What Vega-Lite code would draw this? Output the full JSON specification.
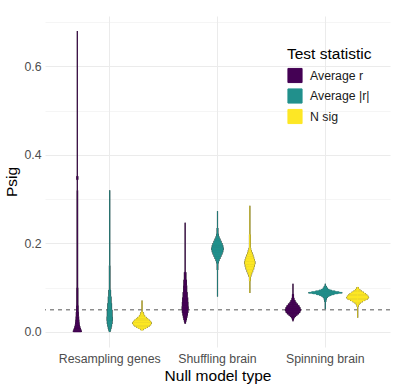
{
  "$schema": "https://vega.github.io/schema/vega-lite/v6.json",
  "width": 345,
  "height": 331,
  "autosize": {"type": "none"},
  "padding": {"left": 45, "top": 16, "right": 25, "bottom": 43},
  "background": "white",
  "config": {
    "font": "Liberation Sans",
    "view": {"stroke": null},
    "axis": {"domain": false, "ticks": false, "tickSize": 0, "labelColor": "#4D4D4D", "titleColor": "#000000", "titleFontWeight": "normal", "labelFontSize": 12.3, "titleFontSize": 15.5, "gridColor": "#EBEBEB"},
    "legend": {"titleFontWeight": "normal"}
  },
  "data": {"values": [
    {"g":"Resampling genes","s":"Average r","lo":0.32,"hi":0.68,"d":0},
    {"g":"Resampling genes","s":"Average r","lo":0.344,"hi":0.352,"d":3},
    {"g":"Resampling genes","s":"Average r","lo":0.10,"hi":0.32,"d":1.5},
    {"g":"Resampling genes","s":"Average r","lo":0.06,"hi":0.10,"d":3},
    {"g":"Resampling genes","s":"Average r","lo":0.045,"hi":0.06,"d":4.5},
    {"g":"Resampling genes","s":"Average r","lo":0.035,"hi":0.045,"d":6},
    {"g":"Resampling genes","s":"Average r","lo":0.028,"hi":0.035,"d":7.5},
    {"g":"Resampling genes","s":"Average r","lo":0.022,"hi":0.028,"d":9},
    {"g":"Resampling genes","s":"Average r","lo":0.017,"hi":0.022,"d":10.5},
    {"g":"Resampling genes","s":"Average r","lo":0.013,"hi":0.017,"d":12},
    {"g":"Resampling genes","s":"Average r","lo":0.009,"hi":0.013,"d":15},
    {"g":"Resampling genes","s":"Average r","lo":0.006,"hi":0.009,"d":18},
    {"g":"Resampling genes","s":"Average r","lo":0.003,"hi":0.006,"d":21},
    {"g":"Resampling genes","s":"Average r","lo":0.0,"hi":0.003,"d":24},

    {"g":"Resampling genes","s":"Average |r|","lo":0.15,"hi":0.32,"d":0},
    {"g":"Resampling genes","s":"Average |r|","lo":0.095,"hi":0.15,"d":1.5},
    {"g":"Resampling genes","s":"Average |r|","lo":0.08,"hi":0.095,"d":5},
    {"g":"Resampling genes","s":"Average |r|","lo":0.065,"hi":0.08,"d":8},
    {"g":"Resampling genes","s":"Average |r|","lo":0.05,"hi":0.065,"d":11},
    {"g":"Resampling genes","s":"Average |r|","lo":0.035,"hi":0.05,"d":14},
    {"g":"Resampling genes","s":"Average |r|","lo":0.025,"hi":0.035,"d":15.5},
    {"g":"Resampling genes","s":"Average |r|","lo":0.018,"hi":0.025,"d":14},
    {"g":"Resampling genes","s":"Average |r|","lo":0.012,"hi":0.018,"d":11},
    {"g":"Resampling genes","s":"Average |r|","lo":0.007,"hi":0.012,"d":8},
    {"g":"Resampling genes","s":"Average |r|","lo":0.003,"hi":0.007,"d":5},
    {"g":"Resampling genes","s":"Average |r|","lo":0.0,"hi":0.003,"d":2},

    {"g":"Resampling genes","s":"N sig","lo":0.045,"hi":0.071,"d":0},
    {"g":"Resampling genes","s":"N sig","lo":0.042,"hi":0.045,"d":6},
    {"g":"Resampling genes","s":"N sig","lo":0.038,"hi":0.042,"d":9},
    {"g":"Resampling genes","s":"N sig","lo":0.034,"hi":0.038,"d":15},
    {"g":"Resampling genes","s":"N sig","lo":0.031,"hi":0.034,"d":24},
    {"g":"Resampling genes","s":"N sig","lo":0.028,"hi":0.031,"d":33},
    {"g":"Resampling genes","s":"N sig","lo":0.025,"hi":0.028,"d":42},
    {"g":"Resampling genes","s":"N sig","lo":0.022,"hi":0.025,"d":51},
    {"g":"Resampling genes","s":"N sig","lo":0.018,"hi":0.022,"d":55},
    {"g":"Resampling genes","s":"N sig","lo":0.015,"hi":0.018,"d":51},
    {"g":"Resampling genes","s":"N sig","lo":0.012,"hi":0.015,"d":42},
    {"g":"Resampling genes","s":"N sig","lo":0.009,"hi":0.012,"d":30},
    {"g":"Resampling genes","s":"N sig","lo":0.007,"hi":0.009,"d":18},
    {"g":"Resampling genes","s":"N sig","lo":0.004,"hi":0.007,"d":6},

    {"g":"Shuffling brain","s":"Average r","lo":0.135,"hi":0.247,"d":0},
    {"g":"Shuffling brain","s":"Average r","lo":0.118,"hi":0.135,"d":4.5},
    {"g":"Shuffling brain","s":"Average r","lo":0.105,"hi":0.118,"d":7.5},
    {"g":"Shuffling brain","s":"Average r","lo":0.09,"hi":0.105,"d":9},
    {"g":"Shuffling brain","s":"Average r","lo":0.078,"hi":0.09,"d":12},
    {"g":"Shuffling brain","s":"Average r","lo":0.068,"hi":0.078,"d":15},
    {"g":"Shuffling brain","s":"Average r","lo":0.058,"hi":0.068,"d":16.5},
    {"g":"Shuffling brain","s":"Average r","lo":0.05,"hi":0.058,"d":18},
    {"g":"Shuffling brain","s":"Average r","lo":0.043,"hi":0.05,"d":16.5},
    {"g":"Shuffling brain","s":"Average r","lo":0.037,"hi":0.043,"d":13.5},
    {"g":"Shuffling brain","s":"Average r","lo":0.032,"hi":0.037,"d":10.5},
    {"g":"Shuffling brain","s":"Average r","lo":0.027,"hi":0.032,"d":7.5},
    {"g":"Shuffling brain","s":"Average r","lo":0.023,"hi":0.027,"d":4.5},
    {"g":"Shuffling brain","s":"Average r","lo":0.019,"hi":0.023,"d":2},

    {"g":"Shuffling brain","s":"Average |r|","lo":0.08,"hi":0.273,"d":0},
    {"g":"Shuffling brain","s":"Average |r|","lo":0.222,"hi":0.235,"d":2},
    {"g":"Shuffling brain","s":"Average |r|","lo":0.216,"hi":0.222,"d":4.5},
    {"g":"Shuffling brain","s":"Average |r|","lo":0.211,"hi":0.216,"d":9},
    {"g":"Shuffling brain","s":"Average |r|","lo":0.206,"hi":0.211,"d":15},
    {"g":"Shuffling brain","s":"Average |r|","lo":0.201,"hi":0.206,"d":21},
    {"g":"Shuffling brain","s":"Average |r|","lo":0.196,"hi":0.201,"d":27},
    {"g":"Shuffling brain","s":"Average |r|","lo":0.191,"hi":0.196,"d":31.5},
    {"g":"Shuffling brain","s":"Average |r|","lo":0.185,"hi":0.191,"d":34},
    {"g":"Shuffling brain","s":"Average |r|","lo":0.18,"hi":0.185,"d":31.5},
    {"g":"Shuffling brain","s":"Average |r|","lo":0.175,"hi":0.18,"d":27},
    {"g":"Shuffling brain","s":"Average |r|","lo":0.17,"hi":0.175,"d":21},
    {"g":"Shuffling brain","s":"Average |r|","lo":0.165,"hi":0.17,"d":15},
    {"g":"Shuffling brain","s":"Average |r|","lo":0.16,"hi":0.165,"d":9},
    {"g":"Shuffling brain","s":"Average |r|","lo":0.155,"hi":0.16,"d":4.5},
    {"g":"Shuffling brain","s":"Average |r|","lo":0.14,"hi":0.155,"d":1.5},

    {"g":"Shuffling brain","s":"N sig","lo":0.088,"hi":0.285,"d":0},
    {"g":"Shuffling brain","s":"N sig","lo":0.19,"hi":0.22,"d":2},
    {"g":"Shuffling brain","s":"N sig","lo":0.185,"hi":0.19,"d":4.5},
    {"g":"Shuffling brain","s":"N sig","lo":0.18,"hi":0.185,"d":9},
    {"g":"Shuffling brain","s":"N sig","lo":0.175,"hi":0.18,"d":13.5},
    {"g":"Shuffling brain","s":"N sig","lo":0.17,"hi":0.175,"d":18},
    {"g":"Shuffling brain","s":"N sig","lo":0.165,"hi":0.17,"d":22.5},
    {"g":"Shuffling brain","s":"N sig","lo":0.16,"hi":0.165,"d":27},
    {"g":"Shuffling brain","s":"N sig","lo":0.153,"hi":0.16,"d":30},
    {"g":"Shuffling brain","s":"N sig","lo":0.147,"hi":0.153,"d":27},
    {"g":"Shuffling brain","s":"N sig","lo":0.141,"hi":0.147,"d":22.5},
    {"g":"Shuffling brain","s":"N sig","lo":0.135,"hi":0.141,"d":16.5},
    {"g":"Shuffling brain","s":"N sig","lo":0.13,"hi":0.135,"d":10.5},
    {"g":"Shuffling brain","s":"N sig","lo":0.125,"hi":0.13,"d":6},
    {"g":"Shuffling brain","s":"N sig","lo":0.115,"hi":0.125,"d":2},

    {"g":"Spinning brain","s":"Average r","lo":0.024,"hi":0.109,"d":0},
    {"g":"Spinning brain","s":"Average r","lo":0.077,"hi":0.085,"d":3},
    {"g":"Spinning brain","s":"Average r","lo":0.072,"hi":0.077,"d":6},
    {"g":"Spinning brain","s":"Average r","lo":0.068,"hi":0.072,"d":12},
    {"g":"Spinning brain","s":"Average r","lo":0.064,"hi":0.068,"d":18},
    {"g":"Spinning brain","s":"Average r","lo":0.06,"hi":0.064,"d":27},
    {"g":"Spinning brain","s":"Average r","lo":0.056,"hi":0.06,"d":36},
    {"g":"Spinning brain","s":"Average r","lo":0.052,"hi":0.056,"d":42},
    {"g":"Spinning brain","s":"Average r","lo":0.047,"hi":0.052,"d":45},
    {"g":"Spinning brain","s":"Average r","lo":0.043,"hi":0.047,"d":40.5},
    {"g":"Spinning brain","s":"Average r","lo":0.04,"hi":0.043,"d":33},
    {"g":"Spinning brain","s":"Average r","lo":0.037,"hi":0.04,"d":24},
    {"g":"Spinning brain","s":"Average r","lo":0.034,"hi":0.037,"d":15},
    {"g":"Spinning brain","s":"Average r","lo":0.031,"hi":0.034,"d":7.5},
    {"g":"Spinning brain","s":"Average r","lo":0.027,"hi":0.031,"d":3},

    {"g":"Spinning brain","s":"Average |r|","lo":0.052,"hi":0.109,"d":0},
    {"g":"Spinning brain","s":"Average |r|","lo":0.1,"hi":0.104,"d":6},
    {"g":"Spinning brain","s":"Average |r|","lo":0.097,"hi":0.1,"d":12},
    {"g":"Spinning brain","s":"Average |r|","lo":0.095,"hi":0.097,"d":21},
    {"g":"Spinning brain","s":"Average |r|","lo":0.093,"hi":0.095,"d":36},
    {"g":"Spinning brain","s":"Average |r|","lo":0.091,"hi":0.093,"d":57},
    {"g":"Spinning brain","s":"Average |r|","lo":0.0895,"hi":0.091,"d":81},
    {"g":"Spinning brain","s":"Average |r|","lo":0.0875,"hi":0.0895,"d":99},
    {"g":"Spinning brain","s":"Average |r|","lo":0.086,"hi":0.0875,"d":75},
    {"g":"Spinning brain","s":"Average |r|","lo":0.084,"hi":0.086,"d":51},
    {"g":"Spinning brain","s":"Average |r|","lo":0.082,"hi":0.084,"d":33},
    {"g":"Spinning brain","s":"Average |r|","lo":0.08,"hi":0.082,"d":21},
    {"g":"Spinning brain","s":"Average |r|","lo":0.077,"hi":0.08,"d":12},
    {"g":"Spinning brain","s":"Average |r|","lo":0.073,"hi":0.077,"d":6},
    {"g":"Spinning brain","s":"Average |r|","lo":0.068,"hi":0.073,"d":3},

    {"g":"Spinning brain","s":"N sig","lo":0.032,"hi":0.101,"d":0},
    {"g":"Spinning brain","s":"N sig","lo":0.097,"hi":0.101,"d":4.5},
    {"g":"Spinning brain","s":"N sig","lo":0.094,"hi":0.097,"d":12},
    {"g":"Spinning brain","s":"N sig","lo":0.091,"hi":0.094,"d":21},
    {"g":"Spinning brain","s":"N sig","lo":0.088,"hi":0.091,"d":33},
    {"g":"Spinning brain","s":"N sig","lo":0.085,"hi":0.088,"d":45},
    {"g":"Spinning brain","s":"N sig","lo":0.082,"hi":0.085,"d":54},
    {"g":"Spinning brain","s":"N sig","lo":0.079,"hi":0.082,"d":61},
    {"g":"Spinning brain","s":"N sig","lo":0.076,"hi":0.079,"d":65},
    {"g":"Spinning brain","s":"N sig","lo":0.073,"hi":0.076,"d":57},
    {"g":"Spinning brain","s":"N sig","lo":0.07,"hi":0.073,"d":42},
    {"g":"Spinning brain","s":"N sig","lo":0.067,"hi":0.07,"d":27},
    {"g":"Spinning brain","s":"N sig","lo":0.064,"hi":0.067,"d":15},
    {"g":"Spinning brain","s":"N sig","lo":0.061,"hi":0.064,"d":7.5},
    {"g":"Spinning brain","s":"N sig","lo":0.057,"hi":0.061,"d":3}
  ]},
  "layer": [
    {
      "data": {"values": [{"threshold": 0.05}]},
      "mark": {"type": "rule", "color": "#555555", "strokeDash": [4, 4], "strokeWidth": 1},
      "encoding": {"y": {"field": "threshold", "type": "quantitative", "title": "Psig"}}
    },
    {
      "mark": {"type": "bar", "color": "#2e2e2e"},
      "encoding": {
        "x": {"field": "g", "type": "nominal", "sort": ["Resampling genes", "Shuffling brain", "Spinning brain"], "scale": {"paddingInner": 0, "paddingOuter": 0.1},
          "axis": {"title": "Null model type", "labelAngle": 0, "labelAlign": "center", "labelBaseline": "top", "grid": true, "bandPosition": 0.5, "labelPadding": 5, "titlePadding": 4, "gridWidth": 1}},
        "xOffset": {"field": "s", "type": "nominal", "sort": ["Average r", "Average |r|", "N sig"], "scale": {"paddingInner": 0, "paddingOuter": 0.1667}},
        "y": {"field": "lo", "type": "quantitative",
          "axis": {"title": "Psig", "values": [0, 0.1, 0.2, 0.3, 0.4, 0.5, 0.6, 0.7], "labelExpr": "round(datum.value*10)%2==0 ? format(datum.value, '.1f') : ''", "labelPadding": 4, "titlePadding": 4, "grid": true,
            "gridWidth": {"condition": {"test": "round(datum.value*10)%2==0", "value": 1}, "value": 0.5}}},
        "y2": {"field": "hi"},
        "size": {"field": "d", "type": "quantitative", "scale": {"domain": [0, 99], "range": [1.2, 34.2]}, "legend": null}
      }
    },
    {
      "mark": {"type": "bar", "strokeWidth": 0.5},
      "encoding": {
        "x": {"field": "g", "type": "nominal", "sort": ["Resampling genes", "Shuffling brain", "Spinning brain"], "scale": {"paddingInner": 0, "paddingOuter": 0.1},
          "axis": {"title": "Null model type", "labelAngle": 0, "labelAlign": "center", "labelBaseline": "top", "grid": true, "bandPosition": 0.5, "labelPadding": 5, "titlePadding": 4, "gridWidth": 1}},
        "xOffset": {"field": "s", "type": "nominal", "sort": ["Average r", "Average |r|", "N sig"], "scale": {"paddingInner": 0, "paddingOuter": 0.1667}},
        "y": {"field": "lo", "type": "quantitative", "scale": {"domain": [-0.034, 0.714], "nice": false, "zero": false},
          "axis": {"title": "Psig", "values": [0, 0.1, 0.2, 0.3, 0.4, 0.5, 0.6, 0.7], "labelExpr": "round(datum.value*10)%2==0 ? format(datum.value, '.1f') : ''", "labelPadding": 4, "titlePadding": 4, "grid": true,
            "gridWidth": {"condition": {"test": "round(datum.value*10)%2==0", "value": 1}, "value": 0.5}}},
        "y2": {"field": "hi"},
        "size": {"field": "d", "type": "quantitative", "scale": {"domain": [0, 99], "range": [0, 33]}, "legend": null},
        "stroke": {"field": "s", "type": "nominal", "scale": {"domain": ["Average r", "Average |r|", "N sig"], "range": ["#440154", "#21908C", "#FDE725"]}, "legend": null},
        "color": {"field": "s", "type": "nominal", "sort": ["Average r", "Average |r|", "N sig"],
          "scale": {"domain": ["Average r", "Average |r|", "N sig"], "range": ["#440154", "#21908C", "#FDE725"]},
          "legend": {"title": "Test statistic", "orient": "none", "legendX": 242, "legendY": 31, "titleFontSize": 15.5, "titleColor": "#000000", "titlePadding": 5, "labelFontSize": 12.3, "labelColor": "#1a1a1a", "labelOffset": 7, "symbolType": "square", "symbolSize": 200, "symbolStrokeColor": "#8c8c8c", "symbolStrokeWidth": 1, "rowPadding": 0.5, "symbolOpacity": 1}}
      }
    }
  ],
  "resolve": {"scale": {"size": "independent"}}
}
